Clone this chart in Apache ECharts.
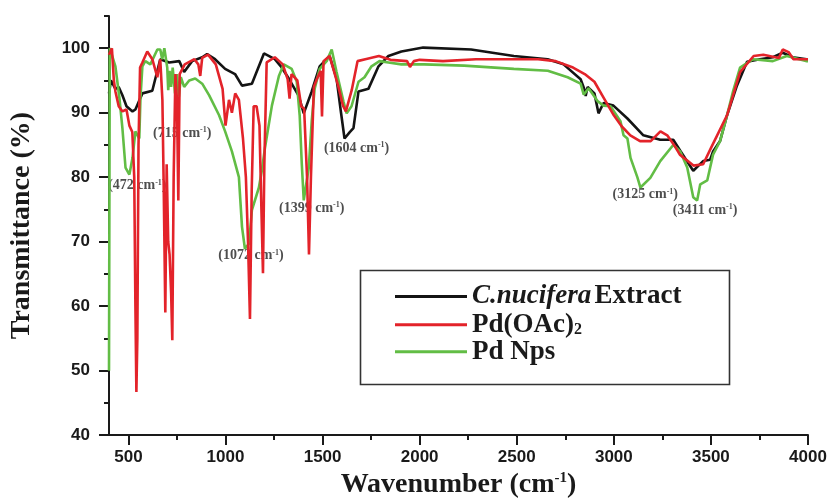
<!DOCTYPE html>
<html>
<head>
<meta charset="utf-8">
<script src="https://cdn.jsdelivr.net/npm/echarts@6/dist/echarts.min.js"></script>
<style>
  html, body { margin: 0; padding: 0; background: #fff; }
  #chart { width: 834px; height: 504px; }
</style>
</head>
<body>
<div id="chart"></div>
<script>
var SERIES_NAMES = ['C.nucifera Extract', 'Pd(OAc)2', 'Pd Nps'];

var blackWn = [400, 410, 433, 450, 469, 490, 521, 536, 572, 623, 664, 710, 762, 787, 828, 880, 905, 946, 998, 1049, 1085, 1136, 1198, 1254, 1285, 1326, 1377, 1403, 1444, 1485, 1536, 1572, 1595, 1613, 1640, 1659, 1685, 1736, 1788, 1839, 1906, 2018, 2265, 2485, 2659, 2741, 2829, 2850, 2855, 2865, 2900, 2921, 2947, 2998, 3070, 3152, 3239, 3306, 3342, 3409, 3460, 3496, 3511, 3547, 3583, 3634, 3686, 3752, 3819, 3870, 3921, 3993, 4000];
var blackT = [93, 95, 93.7, 94, 92.7, 91, 90.2, 90.5, 93, 93.4, 98.3, 97.8, 98, 96.3, 98, 98.6, 99.1, 98.3, 96.8, 96, 94.2, 94.5, 99.2, 98.3, 97.2, 95.3, 92.6, 89.9, 93.3, 97.2, 98.8, 95.3, 90, 86, 87, 87.6, 93.3, 93.7, 97.2, 98.8, 99.5, 100.1, 99.8, 98.8, 98.3, 97.5, 95.2, 93.5, 92.6, 94, 93, 89.9, 91.5, 91.1, 89.1, 86.5, 85.8, 85.8, 84.1, 81, 82.5, 82.7, 84, 85.6, 89.6, 94.2, 97.9, 98.3, 98.6, 99.3, 98.6, 98.3, 98.3];

var redWn = [400, 415, 425, 433, 450, 469, 490, 505, 520, 530, 536, 541, 546, 552, 560, 572, 597, 623, 649, 664, 675, 682, 690, 697, 705, 712, 720, 726, 733, 742, 750, 757, 764, 790, 840, 860, 870, 880, 910, 950, 985, 1000, 1018, 1033, 1050, 1069, 1090, 1105, 1116, 1126, 1135, 1145, 1160, 1175, 1185, 1193, 1200, 1212, 1254, 1295, 1320, 1330, 1340, 1370, 1390, 1405, 1420, 1430, 1440, 1455, 1470, 1490, 1497, 1505, 1536, 1580, 1605, 1620, 1650, 1680, 1720, 1790, 1850, 1935, 1950, 1970, 2000, 2120, 2290, 2460, 2610, 2700, 2790, 2850, 2900, 2950, 3000, 3040, 3085, 3135, 3190, 3240, 3275, 3310, 3340, 3410, 3460, 3500, 3583, 3650, 3720, 3770, 3850, 3870, 3900, 3925, 4000];
var redT = [99, 100, 95, 93.3, 91, 90.2, 90.5, 88, 87, 80, 60, 46.7, 55, 85, 97, 97.8, 99.5, 98.3, 95.5, 98.3, 92, 78, 59, 82, 70, 68, 62, 54.7, 80, 96, 92, 76.4, 96, 97.5, 98.3, 97.5, 95.7, 98.5, 99, 97.5, 93.7, 88, 92, 90, 93, 92, 86, 80, 70, 58, 78, 91, 91, 88, 75, 65.1, 82, 97.8, 98.6, 97.5, 95.2, 92.2, 96, 95, 91, 90.6, 80, 68, 80, 94, 95.2, 96.5, 89.4, 98, 98.8, 94.2, 91.1, 90.2, 93.5, 98, 98.3, 98.8, 98.2, 98, 97.1, 98, 98.2, 98, 98.3, 98.3, 98.3, 98, 97, 96, 94.8, 92.2, 89.6, 87.9, 86.5, 85.6, 85.6, 87.1, 86.5, 85, 83.5, 81.8, 82, 84.5, 89.6, 96.3, 98.8, 99, 98.5, 99.8, 99.4, 98.3, 98.3];

var greenWn = [400, 404, 408, 433, 454, 469, 485, 505, 521, 536, 556, 562, 572, 587, 613, 649, 664, 674, 685, 700, 705, 712, 720, 728, 740, 750, 760, 770, 787, 813, 844, 880, 916, 967, 998, 1033, 1069, 1085, 1100, 1121, 1136, 1172, 1187, 1203, 1239, 1275, 1300, 1341, 1367, 1382, 1393, 1403, 1429, 1444, 1459, 1485, 1521, 1547, 1572, 1608, 1624, 1649, 1685, 1716, 1752, 1793, 1839, 1906, 2024, 2229, 2485, 2660, 2762, 2829, 2845, 2870, 2916, 2947, 2983, 3034, 3050, 3070, 3086, 3121, 3137, 3188, 3239, 3306, 3342, 3378, 3409, 3429, 3445, 3481, 3511, 3547, 3583, 3614, 3650, 3717, 3819, 3891, 3994, 4000];
var greenT = [50, 100, 100, 97.2, 92.2, 87.6, 81.5, 80.4, 83, 87.1, 86, 92.2, 97.2, 98, 97.5, 99.8, 99.8, 98.3, 100, 97, 93.5, 96.5, 94, 97, 93, 96, 92.5, 95.5, 94, 95, 95.3, 94.5, 92.7, 89.6, 87.1, 84, 80, 72.3, 68.9, 69.7, 74.9, 78.4, 81, 84.5, 91.1, 95.7, 97.5, 96.8, 94.8, 89.6, 82, 76.4, 81.5, 88.7, 93.7, 96.8, 98, 99.8, 96.3, 91.7, 89.9, 91, 94.8, 95.5, 97.2, 98, 97.8, 97.5, 97.5, 97.3, 96.8, 96.5, 95.5, 94.5, 92.8, 93.8, 91.8, 91.1, 91, 88.7, 86.5, 86, 83, 80, 78.4, 79.9, 82.5, 85, 84, 81.5, 76.9, 76.4, 78.9, 79.5, 83.5, 85.6, 89.6, 93.3, 97, 98.3, 98, 98.8, 98, 98];

// peak labels (text centre in data coordinates)
var noteText = ['472', '715', '1604', '1399', '1072', '3125', '3411'];
var noteWn = [546, 777, 1675, 1444, 1131, 3162, 3470];
var noteT = [78.7, 86.8, 84.5, 75.2, 67.8, 77.3, 74.9];

var xLabelValues = [500, 1000, 1500, 2000, 2500, 3000, 3500, 4000];
var xMinorValues = [750, 1250, 1750, 2250, 2750, 3250, 3750];
var yLabelValues = [40, 50, 60, 70, 80, 90, 100];
var yMinorValues = [45, 55, 65, 75, 85, 95, 105];

var SERIF = '"Liberation Serif", "Times New Roman", serif';
var SANS = '"Liberation Sans", Arial, sans-serif';

function pairs(xs, ys) {
    var out = [];
    for (var i = 0; i < xs.length; i++) {
        out.push([xs[i], ys[i]]);
    }
    return out;
}

var chart = echarts.init(document.getElementById('chart'));

var lineColors = ['#141414', '#e3232a', '#62bd45'];
var lineData = [pairs(blackWn, blackT), pairs(redWn, redT), pairs(greenWn, greenT)];

function lineSeries(i) {
    return {
        name: SERIES_NAMES[i],
        type: 'line',
        data: lineData[i],
        showSymbol: false,
        symbol: 'none',
        z: 3,
        lineStyle: { color: lineColors[i], width: 2.6 },
        itemStyle: { color: lineColors[i] },
        clip: true
    };
}

var notesData = [];
for (var n = 0; n < noteText.length; n++) {
    notesData.push({ value: [noteWn[n], noteT[n]], name: noteText[n] });
}

var axisLineStyle = { color: '#1a1a1a', width: 2 };

function plainNumber(v) {
    return String(v);
}

chart.setOption({
    backgroundColor: '#ffffff',
    animation: false,
    grid: { left: 107, right: 26, top: 16, bottom: 63 },
    xAxis: [
        {
            type: 'value',
            min: 400,
            max: 4000,
            splitLine: { show: false },
            axisLine: { show: true, lineStyle: axisLineStyle },
            axisTick: { show: true, inside: false, length: 10, lineStyle: axisLineStyle, customValues: xLabelValues },
            axisLabel: {
                customValues: xLabelValues,
                formatter: plainNumber,
                margin: 14,
                color: '#1a1a1a',
                fontFamily: SANS,
                fontWeight: 'bold',
                fontSize: 17
            },
            name: 'Wavenumber (cm{sup|-1})',
            nameLocation: 'middle',
            nameGap: 34,
            nameTextStyle: {
                color: '#1a1a1a',
                fontFamily: SERIF,
                fontWeight: 'bold',
                fontSize: 28,
                rich: {
                    sup: { fontFamily: SERIF, fontWeight: 'bold', fontSize: 15, verticalAlign: 'top', color: '#1a1a1a' }
                }
            }
        },
        {
            type: 'value',
            min: 400,
            max: 4000,
            position: 'bottom',
            splitLine: { show: false },
            axisLine: { show: false },
            axisTick: { show: true, inside: false, length: 5, lineStyle: axisLineStyle, customValues: xMinorValues },
            axisLabel: { show: false }
        }
    ],
    yAxis: [
        {
            type: 'value',
            min: 40,
            max: 105,
            interval: 5,
            splitLine: { show: false },
            axisLine: { show: true, lineStyle: axisLineStyle },
            axisTick: { show: true, inside: false, length: 10, lineStyle: axisLineStyle, customValues: yLabelValues },
            axisLabel: {
                customValues: yLabelValues,
                formatter: plainNumber,
                margin: 19,
                color: '#1a1a1a',
                fontFamily: SANS,
                fontWeight: 'bold',
                fontSize: 17
            },
            name: 'Transmittance (%)',
            nameLocation: 'middle',
            nameGap: 73,
            nameTextStyle: {
                color: '#1a1a1a',
                fontFamily: SERIF,
                fontWeight: 'bold',
                fontSize: 28
            }
        },
        {
            type: 'value',
            min: 40,
            max: 105,
            interval: 5,
            position: 'left',
            splitLine: { show: false },
            axisLine: { show: false },
            axisTick: { show: true, inside: false, length: 5, lineStyle: axisLineStyle, customValues: yMinorValues },
            axisLabel: { show: false }
        }
    ],
    legend: {
        data: SERIES_NAMES,
        orient: 'vertical',
        left: 395,
        top: 283,
        itemWidth: 72,
        itemHeight: 3,
        itemGap: 0,
        icon: 'rect',
        padding: 0,
        formatter: function (name) {
            if (name === SERIES_NAMES[0]) return '{i|C.nucifera} {b|Extract}';
            if (name === SERIES_NAMES[1]) return '{b|Pd(OAc)}{s|2}';
            return '{b|Pd Nps}';
        },
        textStyle: {
            color: '#1a1a1a',
            rich: {
                i: { fontFamily: SERIF, fontStyle: 'italic', fontWeight: 'bold', fontSize: 27, lineHeight: 26.5, color: '#1a1a1a' },
                b: { fontFamily: SERIF, fontWeight: 'bold', fontSize: 27, lineHeight: 26.5, color: '#1a1a1a' },
                s: { fontFamily: SERIF, fontWeight: 'bold', fontSize: 16, lineHeight: 26.5, verticalAlign: 'bottom', padding: [12, 0, 0, 0], color: '#1a1a1a' }
            }
        }
    },
    graphic: [
        {
            type: 'rect',
            left: 358,
            top: 268,
            z: 100,
            shape: { width: 369, height: 114 },
            style: { fill: 'none', stroke: '#333', lineWidth: 1.6 }
        }
    ],
    series: [
        {
            name: 'notes',
            type: 'scatter',
            data: notesData,
            symbolSize: 0,
            z: 1,
            silent: true,
            label: {
                show: true,
                position: 'inside',
                formatter: function (p) {
                    return '{t|(' + p.name + ' cm}{sup|-1}{t|)}';
                },
                rich: {
                    t: { fontFamily: SERIF, fontWeight: 'bold', fontSize: 14, color: '#222' },
                    sup: { fontFamily: SERIF, fontWeight: 'bold', fontSize: 8, verticalAlign: 'top', color: '#222' }
                }
            }
        },
        lineSeries(0),
        lineSeries(2),
        lineSeries(1)
    ]
});
</script>
</body>
</html>
